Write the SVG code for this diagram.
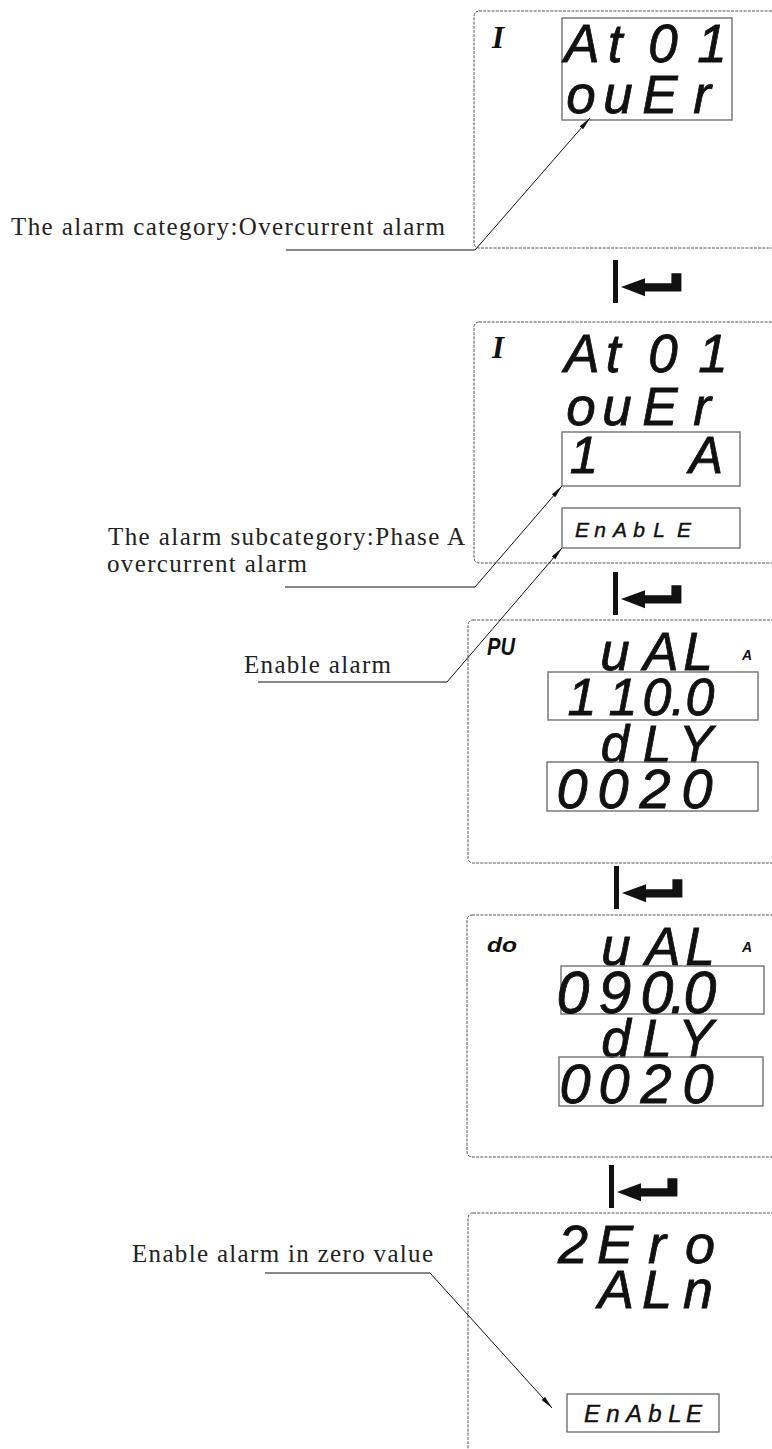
<svg xmlns="http://www.w3.org/2000/svg" xmlns:xlink="http://www.w3.org/1999/xlink" width="772" height="1449" viewBox="0 0 772 1449">
<style>
.panel{fill:none;stroke:#555;stroke-width:1;stroke-dasharray:3 1.2}
.box{fill:none;stroke:#666;stroke-width:1.3}
.seg{font-family:"Liberation Sans",Arial,sans-serif;font-style:italic;fill:#111;stroke:#111;stroke-width:0.8;text-anchor:middle}
.tag{font-family:"Liberation Sans",Arial,sans-serif;font-style:italic;font-weight:bold;fill:#111}
.ser{font-family:"Liberation Serif","Times New Roman",serif;font-style:italic;font-weight:bold;fill:#111;text-anchor:middle}
.lbl{font-family:"Liberation Serif","Times New Roman",serif;font-size:25px;fill:#222}
.conn{fill:none;stroke:#111;stroke-width:1}
</style>
<defs>
<marker id="ah" markerWidth="13" markerHeight="6" refX="13" refY="3" orient="auto" markerUnits="userSpaceOnUse">
<path d="M0,0.7 L13,3 L0,5.3 Z" fill="#111"/>
</marker>
<g id="enter">
<rect x="0" y="0" width="5" height="43" fill="#111"/>
<path d="M8,27 L32,18.3 L32,23.3 L58.4,23.3 L58.4,13.3 L68.4,13.3 L68.4,31.6 L32,31.6 L32,36.3 Z" fill="#111"/>
</g>
</defs>
<rect width="772" height="1449" fill="#fff"/>

<g id="panel-1">
<rect class="panel" x="474" y="11" width="305" height="237" rx="5"/>
<rect class="box" x="562" y="18" width="170" height="102"/>
<text class="ser" x="498" y="48" font-size="31">I</text>
<text class="seg" x="582 615 663 712" y="62" font-size="53">At01</text>
<text class="seg" x="581 618 660 702" y="113" font-size="53">ouEr</text>
</g>

<g id="enter-1"><use xlink:href="#enter" x="613" y="260"/></g>

<g id="panel-2">
<rect class="panel" x="474" y="322" width="305" height="241" rx="5"/>
<text class="ser" x="498" y="358" font-size="31">I</text>
<text class="seg" x="582 613 663 713" y="372" font-size="53">At01</text>
<text class="seg" x="581 617 660 702" y="425" font-size="53">ouEr</text>
<rect class="box" x="562" y="432" width="178" height="54"/>
<text class="seg" xml:space="preserve" style="white-space:pre" x="584 625 665 706" y="473" font-size="51">1  A</text>
<rect class="box" x="562" y="508" width="178" height="40"/>
<text class="seg" x="582 600 620 639 659 684" y="537" font-size="21" style="stroke-width:0.4">EnAbLE</text>
</g>

<g id="enter-2"><use xlink:href="#enter" x="613" y="572"/></g>

<g id="panel-3">
<rect class="panel" x="468" y="620" width="311" height="243" rx="5"/>
<text class="tag" x="487" y="655" font-size="23" textLength="28" lengthAdjust="spacingAndGlyphs">PU</text>
<text class="seg" x="615 661 698" y="670" font-size="53">uAL</text>
<text class="tag" x="742" y="660" font-size="14">A</text>
<rect class="box" x="548" y="672" width="210" height="48"/>
<text class="seg" x="582 623 657 678 700" y="715" font-size="52">110.0</text>
<text class="seg" x="615 657 696" y="762" font-size="51">dLY</text>
<rect class="box" x="547" y="762" width="211" height="49"/>
<text class="seg" x="572 613 655 697" y="808" font-size="56">0020</text>
</g>

<g id="enter-3"><use xlink:href="#enter" x="614" y="866"/></g>

<g id="panel-4">
<rect class="panel" x="467" y="915" width="312" height="242" rx="5"/>
<text class="tag" x="487" y="952" font-size="20" textLength="30" lengthAdjust="spacingAndGlyphs">do</text>
<text class="seg" x="616 663 700" y="965" font-size="53">uAL</text>
<text class="tag" x="742" y="952" font-size="14">A</text>
<rect class="box" x="561" y="966" width="203" height="48"/>
<text class="seg" x="573 615 657 678 700" y="1013" font-size="59">090.0</text>
<text class="seg" x="616 657 696" y="1057" font-size="53">dLY</text>
<rect class="box" x="559" y="1057" width="204" height="49"/>
<text class="seg" x="575 614 656 698" y="1103" font-size="56">0020</text>
</g>

<g id="enter-4"><use xlink:href="#enter" x="609" y="1165"/></g>

<g id="panel-5">
<rect class="panel" x="468" y="1213" width="311" height="260" rx="5"/>
<text class="seg" x="573 615 657 700" y="1263" font-size="54">2Ero</text>
<text class="seg" x="616 657 698" y="1308" font-size="54">ALn</text>
<rect class="box" x="567" y="1394" width="152" height="38"/>
<text class="seg" x="592 613 634 655 675 694" y="1422" font-size="24" style="stroke-width:0.4">EnAbLE</text>
</g>

<g id="label-1">
<text class="lbl" x="11" y="235" textLength="434" lengthAdjust="spacing">The alarm category:Overcurrent alarm</text>
</g>
<g id="label-2">
<text class="lbl" x="108" y="545" textLength="357" lengthAdjust="spacing">The alarm subcategory:Phase A</text>
<text class="lbl" x="107" y="572" textLength="200" lengthAdjust="spacing">overcurrent alarm</text>
</g>
<g id="label-3">
<text class="lbl" x="244" y="673" textLength="147" lengthAdjust="spacing">Enable alarm</text>
</g>
<g id="label-4">
<text class="lbl" x="132" y="1262" textLength="301" lengthAdjust="spacing">Enable alarm in zero value</text>
</g>

<g id="connectors">
<polyline class="conn" points="286,250 475,250 590,118" marker-end="url(#ah)"/>
<polyline class="conn" points="285,587 475,587 562,486" marker-end="url(#ah)"/>
<polyline class="conn" points="258,682 447,682 562,548" marker-end="url(#ah)"/>
<polyline class="conn" points="265,1273 430,1273 552,1408" marker-end="url(#ah)"/>
</g>
</svg>
